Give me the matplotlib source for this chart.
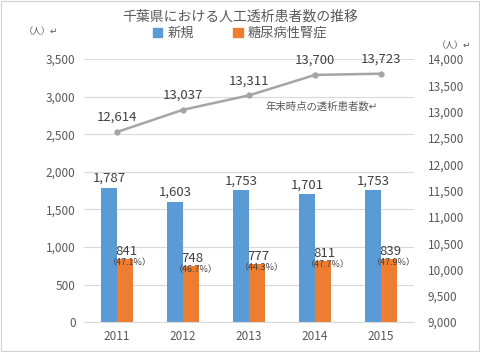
import matplotlib.pyplot as plt
import numpy as np

plt.rcParams['font.family'] = ['Noto Sans CJK JP', 'DejaVu Sans']

years = ['2011', '2012', '2013', '2014', '2015']
new_patients = [1787, 1603, 1753, 1701, 1753]
diabetic = [841, 748, 777, 811, 839]
diabetic_pct = ['47.1', '46.7', '44.3', '47.7', '47.9']
total_patients = [12614, 13037, 13311, 13700, 13723]

blue = '#5b9bd5'
orange = '#ed7d31'
gray = '#a5a5a5'
txt = '#595959'

fig = plt.figure(figsize=(4.8, 3.52), dpi=100)
ax = fig.add_axes([0.175, 0.085, 0.6875, 0.747])
x = np.arange(len(years))
w = 0.245

ax.bar(x - w / 2, new_patients, w, color=blue, zorder=2)
ax.bar(x + w / 2, diabetic, w, color=orange, zorder=2)
for i in range(len(years)):
    ax.text(x[i] - w / 2, new_patients[i] + 40, f'{new_patients[i]:,}',
            ha='center', va='bottom', fontsize=9.5, color='#404040')
    ax.text(x[i] + w / 2 + 0.02, diabetic[i] + 10, f'{diabetic[i]:,}',
            ha='center', va='bottom', fontsize=9.5, color='#404040')
    ax.text(x[i] + w / 2 + 0.07, diabetic[i] + 10, f'（{diabetic_pct[i]}%）',
            ha='center', va='top', fontsize=6.5, color='#404040')

ax.set_xlim(-0.5, len(years) - 0.5)
ax.set_ylim(0, 3500)
ax.set_yticks(range(0, 3501, 500))
ax.yaxis.set_major_formatter(plt.FuncFormatter(lambda v, p: f'{int(v):,}'))
ax.set_xticks(x)
ax.set_xticklabels(years)
ax.grid(axis='y', color='#d9d9d9', linewidth=0.8, zorder=0)
ax.set_axisbelow(True)
for s in ['top', 'right', 'left']:
    ax.spines[s].set_visible(False)
ax.spines['bottom'].set_color('#d9d9d9')
ax.tick_params(length=0, labelsize=8.5, colors=txt, pad=6)

ax2 = ax.twinx()
ax2.plot(x, total_patients, color=gray, linewidth=1.8, marker='o', markersize=3.5, zorder=3)
for i in range(len(years)):
    ax2.text(x[i], total_patients[i] + 150, f'{total_patients[i]:,}',
             ha='center', va='bottom', fontsize=9.5, color='#404040')
ax2.set_ylim(9000, 14000)
ax2.set_yticks(range(9000, 14001, 500))
ax2.yaxis.set_major_formatter(plt.FuncFormatter(lambda v, p: f'{int(v):,}'))
for s in ax2.spines.values():
    s.set_visible(False)
ax2.tick_params(length=0, labelsize=8.5, colors=txt, pad=10)
ax2.text(2.25, 13100, '年末時点の透析患者数↵', fontsize=7.5, color=txt, ha='left', va='center')

fig.text(0.5, 0.952, '千葉県における人工透析患者数の推移', ha='center', va='center',
         fontsize=10, color=txt)
fig.text(0.085, 0.91, '（人）↵', ha='center', va='center', fontsize=6.5, color=txt)
fig.text(0.945, 0.87, '（人）↵', ha='center', va='center', fontsize=6.5, color=txt)

handles = [plt.Rectangle((0, 0), 1, 1, color=blue), plt.Rectangle((0, 0), 1, 1, color=orange)]
fig.legend(handles, ['新規', '糖尿病性腎症'], loc='center', bbox_to_anchor=(0.5, 0.905),
           ncol=2, frameon=False, fontsize=9.5, handlelength=0.7, handleheight=0.7,
           columnspacing=3, handletextpad=0.4, labelcolor=txt)

fig.patches.append(plt.Rectangle((0.003, 0.003), 0.994, 0.994, transform=fig.transFigure,
                                 fill=False, edgecolor='#d0d0d0', linewidth=0.8))
fig.savefig('out.png', dpi=100)
